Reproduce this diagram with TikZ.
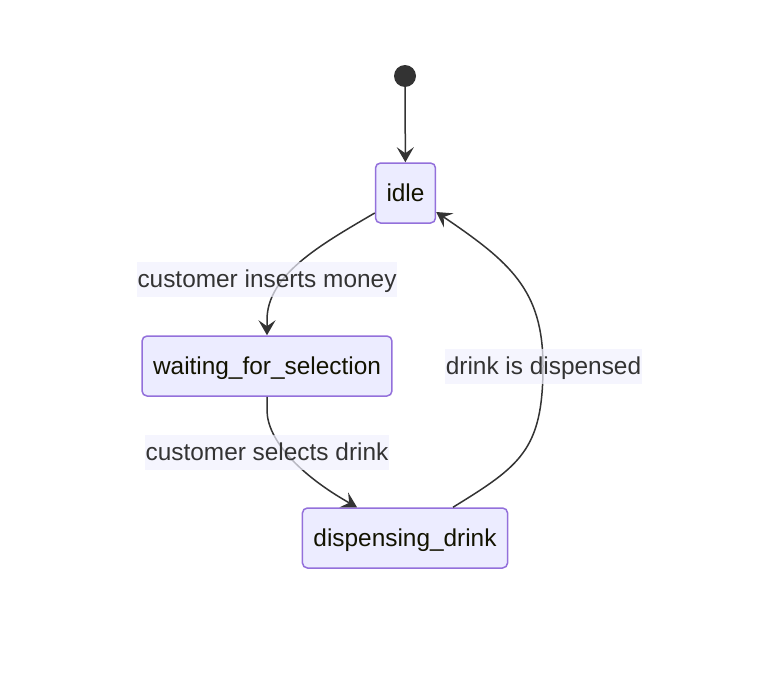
\documentclass[tikz,border=0pt]{standalone}
\usepackage{fontspec}
\setmainfont{Liberation Sans}
\usetikzlibrary{arrows.meta}
\definecolor{statefill}{HTML}{ECECFF}
\definecolor{stateline}{HTML}{9370DB}
\definecolor{moveline}{HTML}{333333}
\definecolor{labelfill}{HTML}{F1F1FE}
\definecolor{statetext}{HTML}{131300}

\begin{document}
\begin{tikzpicture}[x=1pt,y=-1pt,
every node/.style={font=\fontsize{24.4}{28}\selectfont, text height=17pt, text depth=0pt},
state/.style={draw=stateline, fill=statefill, line width=1.5pt, rounded corners=5pt,
	minimum height=60pt, inner xsep=11pt, inner ysep=0pt, text=statetext},
trans/.style={fill=labelfill, fill opacity=0.7, text opacity=1, text=moveline,
	minimum height=35pt, inner xsep=0.5pt, inner ysep=0pt},
move/.style={draw=moveline, line width=1.5pt, -{Stealth[length=15pt,width=17pt,inset=6pt]}}]
\useasboundingbox (0,0) rectangle (761,688);

%states
\node[circle, fill=moveline, minimum size=22pt, inner sep=0pt, text height=0pt] (start) at (405,76) {};
\node[state] (idle) at (405.5,193) {idle};
\node[state] (waiting) at (267,366) {waiting\_for\_selection};
\node[state] (dispensing) at (405,538) {dispensing\_drink};

%transitions
\draw[move] (start) -- (idle);
\draw[move] ([yshift=-20pt]idle.west) .. controls (320,245) and (267,275) .. (267,320) -- (waiting.north);
\draw[move] (waiting.south) -- (267,410) .. controls (267,440) and (300,475) .. ([xshift=-48pt]dispensing.north);
\draw[move] ([xshift=48pt]dispensing.north) .. controls (520,466) and (543,450) .. (543,366)
	.. controls (543,290) and (510,262) .. ([yshift=-19pt]idle.east);

%labels on top of the lines
\node[trans] (inserts) at (267,279) {customer inserts money};
\node[trans] (selects) at (267,452) {customer selects drink};
\node[trans] (dispensed) at (543.5,366) {drink is dispensed};
\end{tikzpicture}
\end{document}
